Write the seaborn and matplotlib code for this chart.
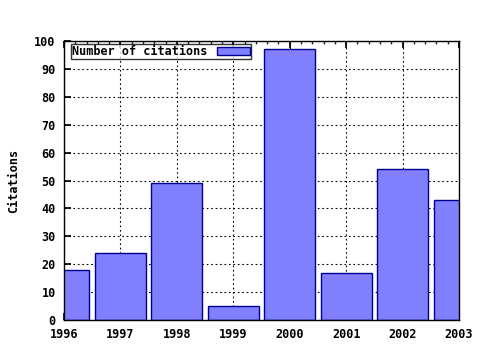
import matplotlib
matplotlib.use("Agg")
import matplotlib.pyplot as plt
import seaborn as sns
import pandas as pd
from matplotlib.ticker import MultipleLocator, FormatStrFormatter

years = [1996, 1997, 1998, 1999, 2000, 2001, 2002, 2003]
citations = [18, 24, 49, 5, 97, 17, 54, 43]
series_label = "Number of citations"
y_label = "Citations"

df = pd.DataFrame({"year": years, "citations": citations})

sns.set_theme(style="white")
plt.rcParams['font.family'] = ['DejaVu Sans Mono']
plt.rcParams['font.weight'] = 'bold'
plt.rcParams['text.color'] = 'black'
plt.rcParams['axes.labelcolor'] = 'black'

fig = plt.figure(figsize=(4.8, 3.5), dpi=100)
ax = fig.add_axes([64/480, 1-320/350, (459-64)/480, (320-41)/350])

sns.barplot(data=df, x="year", y="citations", native_scale=True, width=0.9,
            color="#8080ff", saturation=1, edgecolor="#000090", linewidth=1,
            label=series_label, ax=ax, zorder=2)

ax.set_xlim(1996, 2003)
ax.set_ylim(0, 100)
ax.xaxis.set_major_locator(MultipleLocator(1))
ax.xaxis.set_minor_locator(MultipleLocator(0.2))
ax.yaxis.set_major_locator(MultipleLocator(10))
ax.xaxis.set_major_formatter(FormatStrFormatter('%d'))

ax.grid(True, which='major', linestyle=(0, (1.5, 2.5)), color='black', linewidth=0.8, zorder=0)
ax.set_axisbelow(True)

for s in ax.spines.values():
    s.set_color('black')
    s.set_linewidth(1)
    s.set_visible(True)

ax.tick_params(axis='x', which='major', direction='in', length=5, top=True, bottom=True,
               labelsize=8.5, colors='black', pad=6)
ax.tick_params(axis='x', which='minor', direction='in', length=2.5, top=True, bottom=True)
ax.tick_params(axis='y', which='major', direction='in', length=5, left=True, right=False,
               labelsize=8.5, colors='black', pad=6)
for lab in ax.get_xticklabels() + ax.get_yticklabels():
    lab.set_fontweight('bold')

ax.set_xlabel("")
ax.set_ylabel(y_label, fontsize=8.5, fontweight='bold', color='black', labelpad=10)

leg = ax.legend(loc='upper left', bbox_to_anchor=(7/395, 1-3/279), borderaxespad=0,
                markerfirst=False, frameon=True, fancybox=False,
                borderpad=0.1, handlelength=2.8, handleheight=0.6,
                handletextpad=0.8, labelcolor='black',
                prop={'size': 8.5, 'weight': 'bold'})
leg.get_frame().set_edgecolor('black')
leg.get_frame().set_linewidth(1)

fig.savefig("out.png", dpi=100)
